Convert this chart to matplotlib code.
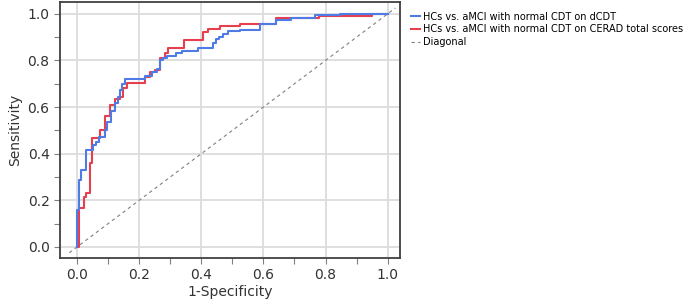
import matplotlib
matplotlib.use("Agg")
import matplotlib.pyplot as plt
from matplotlib.ticker import MultipleLocator

# ROC staircase vertices (x = 1-specificity at which level starts, y = sensitivity level)
blue_fpr = [0.0, 0.0, 0.005, 0.012, 0.028, 0.05, 0.061, 0.072, 0.09, 0.095, 0.11, 0.122,
            0.133, 0.138, 0.144, 0.155, 0.219, 0.24, 0.256, 0.267, 0.277, 0.288, 0.32,
            0.337, 0.39, 0.437, 0.448, 0.458, 0.47, 0.485, 0.524, 0.588, 0.642, 0.69,
            0.765, 0.846, 1.0]
blue_tpr = [0.0, 0.159, 0.288, 0.33, 0.416, 0.438, 0.452, 0.473, 0.502, 0.538, 0.581, 0.617,
            0.645, 0.674, 0.70, 0.72, 0.735, 0.75, 0.765, 0.80, 0.81, 0.818, 0.832,
            0.84, 0.855, 0.875, 0.89, 0.90, 0.915, 0.925, 0.93, 0.957, 0.975, 0.981,
            0.995, 1.0, 1.0]

red_fpr = [0.0, 0.005, 0.023, 0.03, 0.042, 0.049, 0.075, 0.09, 0.106, 0.122, 0.138, 0.149,
           0.16, 0.219, 0.235, 0.251, 0.267, 0.283, 0.294, 0.344, 0.406, 0.422, 0.46,
           0.524, 0.642, 0.78, 0.948, 1.0]
red_tpr = [0.0, 0.169, 0.216, 0.23, 0.362, 0.467, 0.502, 0.562, 0.61, 0.635, 0.645, 0.68,
           0.704, 0.73, 0.75, 0.76, 0.81, 0.834, 0.852, 0.886, 0.92, 0.934, 0.946,
           0.957, 0.981, 0.99, 1.0, 1.0]

diag = [-0.025, 1.025]

labels = ["HCs vs. aMCI with normal CDT on dCDT",
          "HCs vs. aMCI with normal CDT on CERAD total scores",
          "Diagonal"]
ticks = [0.0, 0.2, 0.4, 0.6, 0.8, 1.0]

plt.rcParams['font.family'] = ['DejaVu Sans']

fig = plt.figure(figsize=(6.85, 3.07), dpi=100)
ax = fig.add_axes([0.0876, 0.160, 0.496, 0.833])

blue = '#4f7be6'
red = '#e6404f'
l1, = ax.plot(blue_fpr, blue_tpr, drawstyle='steps-post', color=blue, lw=1.5, zorder=3)
l2, = ax.plot(red_fpr, red_tpr, drawstyle='steps-post', color=red, lw=1.5, zorder=2)
l3, = ax.plot(diag, diag, color='#7f7f7f', lw=0.8, ls=(0, (3, 3)), zorder=1)

ax.set_xlim(-0.055, 1.039)
ax.set_ylim(-0.047, 1.05)
ax.set_xticks(ticks)
ax.set_yticks(ticks)
ax.set_xticklabels([f"{t:.1f}" for t in ticks])
ax.set_yticklabels([f"{t:.1f}" for t in ticks])
ax.xaxis.set_minor_locator(MultipleLocator(0.1))
ax.yaxis.set_minor_locator(MultipleLocator(0.1))
ax.tick_params(which='both', direction='out', length=4, width=0.8, color='#808080',
               labelsize=10, labelcolor='#333333')
ax.grid(True, which='major', color='#dcdcdc', lw=1.3)
ax.set_axisbelow(True)
for s in ax.spines.values():
    s.set_color('#404040')
    s.set_linewidth(1.3)

ax.set_xlabel("1-Specificity", fontsize=10, color='#333333', labelpad=2)
ax.set_ylabel("Sensitivity", fontsize=10, color='#333333', labelpad=4)

fig.legend([l1, l2, l3], labels, loc='upper left', bbox_to_anchor=(0.595, 0.975),
           frameon=False, fontsize=7, handlelength=0.9, handletextpad=0.3,
           labelspacing=0.3, borderaxespad=0)

fig.savefig("out.png", dpi=100)
